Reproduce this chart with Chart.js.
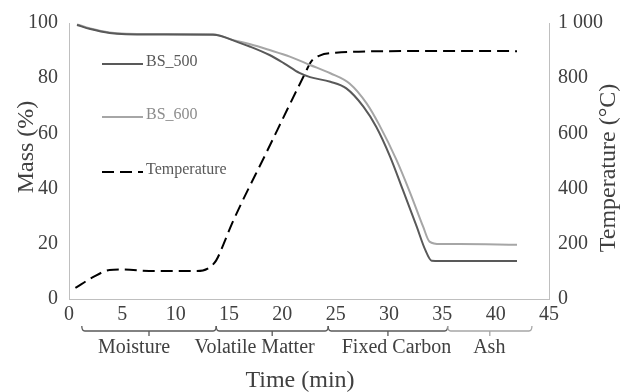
<!DOCTYPE html>
<html><head><meta charset="utf-8">
<script src="https://cdn.jsdelivr.net/npm/chart.js@4.4.1/dist/chart.umd.min.js"></script>
<style>html,body{margin:0;padding:0;background:#fff}</style>
</head><body>
<canvas id="c" width="627" height="392" style="display:block;width:627px;height:392px"></canvas>
<script>
// ---- data ----
const bs500Time = [0.75, 2.0, 3.8, 7.6, 13.5, 16.0, 17.0, 18.8, 20.2, 21.6, 22.6, 24.5, 26.0, 27.6, 28.8, 30.1, 31.3, 32.6, 33.4, 34.0, 34.8, 36.6, 42.0];
const bs500Mass = [99.3, 97.8, 96.4, 95.8, 95.7, 92.8, 91.4, 88.4, 85.3, 81.9, 80.4, 78.7, 76.3, 69.7, 62.4, 51.6, 39.5, 26.2, 17.8, 13.9, 13.8, 13.8, 13.8];
const bs600Time = [0.75, 2.0, 3.8, 7.6, 13.5, 15.4, 17.0, 18.8, 20.7, 22.6, 24.5, 26.3, 27.9, 29.1, 30.7, 32.0, 33.2, 33.8, 34.8, 36.6, 42.0];
const bs600Mass = [99.5, 98.0, 96.6, 96.0, 95.9, 93.8, 92.3, 90.2, 87.8, 84.8, 81.8, 78.1, 70.9, 63.0, 50.4, 38.3, 26.2, 20.8, 19.9, 19.9, 19.7];
const tempTime = [0.6, 2.2, 3.8, 5.0, 8.0, 12.0, 13.0, 13.8, 14.5, 15.3, 18.5, 22.1, 22.7, 23.5, 25.0, 30.0, 35.0, 42.0];
const tempValue = [40, 78, 105, 107, 101, 101, 110, 140, 200, 275, 530, 815, 860, 882, 892, 898, 899, 898];
const xTicks = [0, 5, 10, 15, 20, 25, 30, 35, 40, 45];
const massTicks = [0, 20, 40, 60, 80, 100];
const tempTicks = [0, 200, 400, 600, 800, 1000];
const phaseNames = ['Moisture', 'Volatile Matter', 'Fixed Carbon', 'Ash'];
const phaseStart = [1.2, 13.8, 24.3, 35.5];
const phaseEnd = [13.8, 24.3, 35.5, 43.4];
const phaseLabelAt = [6.1, 17.4, 30.7, 39.4];

const pts = (xs, ys) => xs.map((v, i) => ({x: v, y: ys[i]}));
const fmtThousands = v => String(v).replace(/\B(?=(\d{3})+(?!\d))/g, ' ');

const FONT = "'Liberation Serif', 'Times New Roman', serif";
const TXT = '#404040';
const AXIS = '#bfbfbf';
const C500 = '#595959', C600 = '#a6a6a6';

const overlay = {
  id: 'overlay',
  afterDraw(chart) {
    const {ctx, scales: {x}} = chart;
    ctx.save();
    // phase brackets
    const yl = 331;
    ctx.font = '20px ' + FONT;
    ctx.textAlign = 'center';
    ctx.textBaseline = 'alphabetic';
    phaseNames.forEach((name, i) => {
      const x0 = x.getPixelForValue(phaseStart[i]);
      const x1 = x.getPixelForValue(phaseEnd[i]);
      const xm = (x0 + x1) / 2;
      ctx.strokeStyle = i === 3 ? '#a6a6a6' : '#595959';
      ctx.lineWidth = 1.3;
      ctx.beginPath();
      ctx.moveTo(x0, yl - 5); ctx.quadraticCurveTo(x0, yl, x0 + 3, yl);
      ctx.lineTo(x1 - 3, yl); ctx.quadraticCurveTo(x1, yl, x1, yl - 5);
      ctx.moveTo(xm, yl); ctx.lineTo(xm, yl + 5);
      ctx.stroke();
      ctx.fillStyle = TXT;
      ctx.fillText(name, x.getPixelForValue(phaseLabelAt[i]), 353);
    });
    // axis titles
    ctx.font = '24px ' + FONT;
    ctx.fillStyle = TXT;
    ctx.fillText('Time (min)', 300, 387);
    ctx.save(); ctx.translate(33, 147); ctx.rotate(-Math.PI / 2);
    ctx.fillText('Mass (%)', 0, 0); ctx.restore();
    ctx.save(); ctx.translate(615, 168); ctx.rotate(-Math.PI / 2);
    ctx.fillText('Temperature (°C)', 0, 0); ctx.restore();
    // legend
    const items = [
      {label: 'BS_500', color: C500, text: '#595959', dash: [], y: 64},
      {label: 'BS_600', color: C600, text: '#8c8c8c', dash: [], y: 117},
      {label: 'Temperature', color: '#000', text: '#595959', dash: [12, 6], y: 172}
    ];
    ctx.font = '16px ' + FONT;
    ctx.textAlign = 'left';
    ctx.textBaseline = 'middle';
    items.forEach(it => {
      ctx.strokeStyle = it.color; ctx.lineWidth = 2; ctx.setLineDash(it.dash);
      ctx.beginPath(); ctx.moveTo(102, it.y); ctx.lineTo(143, it.y); ctx.stroke();
      ctx.setLineDash([]);
      ctx.fillStyle = it.text;
      ctx.fillText(it.label, 146, it.y - 2);
    });
    ctx.restore();
  }
};

new Chart(document.getElementById('c'), {
  type: 'line',
  data: {
    datasets: [
      {label: 'BS_500', data: pts(bs500Time, bs500Mass), borderColor: C500, borderWidth: 2, yAxisID: 'y', cubicInterpolationMode: 'monotone'},
      {label: 'BS_600', data: pts(bs600Time, bs600Mass), borderColor: C600, borderWidth: 2, yAxisID: 'y', cubicInterpolationMode: 'monotone'},
      {label: 'Temperature', data: pts(tempTime, tempValue), borderColor: '#000', borderWidth: 2, borderDash: [12, 6], yAxisID: 'y1', cubicInterpolationMode: 'monotone'}
    ]
  },
  options: {
    responsive: false,
    animation: false,
    events: [],
    elements: {point: {radius: 0}},
    layout: {padding: {top: 23, left: 0, right: 0, bottom: 0}},
    plugins: {legend: {display: false}, tooltip: {enabled: false}},
    scales: {
      x: {
        type: 'linear', min: 0, max: 45,
        afterBuildTicks: s => { s.ticks = xTicks.map(v => ({value: v})); },
        afterFit: s => { s.height = 93; },
        grid: {display: false, drawTicks: false},
        border: {display: true, color: AXIS, width: 1},
        ticks: {color: TXT, font: {family: FONT, size: 20}, padding: 4, maxRotation: 0, autoSkip: false}
      },
      y: {
        position: 'left', min: 0, max: 100,
        afterBuildTicks: s => { s.ticks = massTicks.map(v => ({value: v})); },
        afterFit: s => { s.width = 69; },
        grid: {display: false, drawTicks: false},
        border: {display: true, color: AXIS, width: 1},
        ticks: {color: TXT, font: {family: FONT, size: 20}, padding: 11}
      },
      y1: {
        position: 'right', min: 0, max: 1000,
        afterBuildTicks: s => { s.ticks = tempTicks.map(v => ({value: v})); },
        afterFit: s => { s.width = 78; },
        grid: {display: false, drawTicks: false},
        border: {display: true, color: AXIS, width: 1},
        ticks: {color: TXT, font: {family: FONT, size: 20}, padding: 9, callback: v => fmtThousands(v)}
      }
    }
  },
  plugins: [overlay]
});
</script>
</body></html>
